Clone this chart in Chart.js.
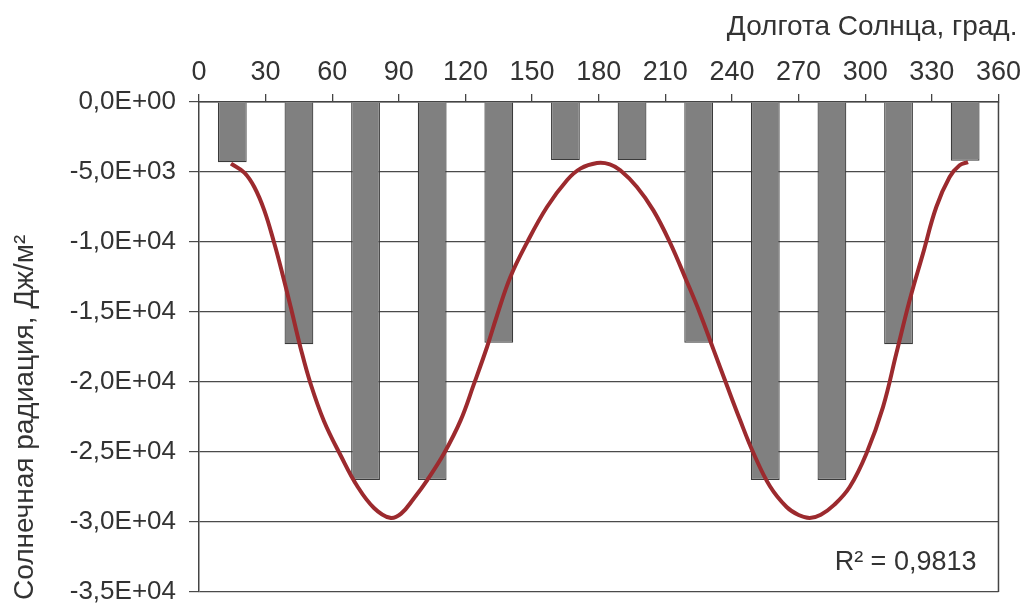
<!DOCTYPE html>
<html>
<head>
  <meta charset="utf-8">
  <script src="https://cdn.jsdelivr.net/npm/chart.js"></script>
  <style>
    body { margin: 0; background: #fff; }
    #wrap { width: 1026px; height: 605px; }
  </style>
</head>
<body>
  <div id="wrap">
    <canvas id="radChart" width="1026" height="605"></canvas>
  </div>
<script>
"use strict";

// Solar longitude (deg) and monthly solar radiation, J/m2
const longitudes = [15, 45, 75, 105, 135, 165, 195, 225, 255, 285, 315, 345];
const radiation = [-4300, -17300, -27000, -27000, -17200, -4150, -4150, -17200, -27000, -27000, -17300, -4200];

// Trend line
const fitLon = [14.4, 20.4, 24.9, 29.4, 33.8, 37.6, 41.3, 45.8, 50.3, 56.3, 63.8, 71.3, 78.8, 86,
  91, 96.8, 102.7, 110.3, 117.8, 123.7, 129.7, 134.2, 140.2, 147.7, 156.7, 165.7, 171.7, 179.2,
  185, 189.7, 197.2, 204.6, 212.1, 219.6, 225.6, 231.6, 237.6, 243.6, 249.6, 257.1, 264.6, 270,
  275, 280, 286, 293, 300.5, 308, 314, 320, 326, 332, 338, 342.5, 346.3];
const fitVal = [-4400, -5040, -6070, -7740, -10040, -12300, -14650, -17600, -20150, -22800, -25250, -27450, -29000, -29700,
  -29400, -28300, -27020, -25110, -22740, -20190, -17500, -15250, -12500, -10040, -7500, -5590, -4760, -4360,
  -4450, -4880, -6070, -7740, -10040, -12800, -15100, -17650, -20200, -22700, -25050, -27450, -28930, -29500,
  -29710, -29480, -28780, -27500, -25120, -21790, -17970, -14160, -10830, -7500, -5360, -4520, -4290];

const xTitle = 'Долгота Солнца, град.';
const yTitle = 'Солнечная радиация, Дж/м²';
const fitNote = 'R² = 0,9813';

const FONT = '"Liberation Sans", Arial, sans-serif';
const INK = '#333333';

// 0,0E+00 style labels
const sci = function(v) {
  if (v === 0) return '0,0E+00';
  const exp = Math.floor(Math.log10(Math.abs(v)));
  const mant = (v / Math.pow(10, exp)).toFixed(1).replace('.', ',');
  const e = Math.abs(exp) < 10 ? '0' + Math.abs(exp) : String(Math.abs(exp));
  return mant + 'E' + (exp < 0 ? '-' : '+') + e;
};

// frame on the right and the free text
const extras = {
  id: 'extras',
  afterDraw(chart) {
    const { ctx, chartArea: a } = chart;
    ctx.save();
    ctx.strokeStyle = '#444';
    ctx.lineWidth = 1.5;
    ctx.beginPath();
    ctx.moveTo(a.right, a.top);
    ctx.lineTo(a.right, a.bottom);
    ctx.stroke();

    ctx.fillStyle = INK;
    ctx.textBaseline = 'alphabetic';
    ctx.textAlign = 'right';
    ctx.font = '28px ' + FONT;
    ctx.fillText(xTitle, a.right + 19, 35);
    ctx.font = '27px ' + FONT;
    ctx.fillText(fitNote, a.right - 22, a.bottom - 22);

    ctx.translate(33, a.bottom + 8);
    ctx.rotate(-Math.PI / 2);
    ctx.textAlign = 'left';
    ctx.font = '28px ' + FONT;
    ctx.fillText(yTitle, 0, 0);
    ctx.restore();
  }
};

const chart = new Chart(document.getElementById('radChart'), {
  data: {
    datasets: [{
      type: 'line',
      order: 0,
      data: fitLon.map((x, i) => ({ x: x, y: fitVal[i] })),
      borderColor: '#9c2a2e',
      borderWidth: 4,
      pointRadius: 0,
      tension: 0.4,
      fill: false
    }, {
      type: 'bar',
      order: 1,
      data: longitudes.map((x, i) => ({ x: x, y: radiation[i] })),
      backgroundColor: '#808080',
      borderColor: '#3a3a3a',
      borderWidth: 1.2,
      barPercentage: 0.54,
      categoryPercentage: 0.8
    }]
  },
  options: {
    responsive: false,
    animation: false,
    layout: { padding: { left: 0, right: 27, top: 0, bottom: 13 } },
    plugins: { legend: { display: false }, tooltip: { enabled: false } },
    scales: {
      x: {
        type: 'linear',
        position: 'top',
        min: 0,
        max: 360,
        offset: false,
        afterFit(scale) { scale.height = 102; },
        ticks: {
          stepSize: 30,
          padding: 5,
          color: INK,
          font: { family: FONT, size: 27 }
        },
        grid: {
          offset: false,
          drawOnChartArea: false,
          tickLength: 8,
          color: '#444',
          lineWidth: 1.3
        },
        border: { color: '#444', width: 1.5 }
      },
      y: {
        min: -35000,
        max: 0,
        afterFit(scale) {
          scale.width = 199;
          scale.paddingTop = 0;
          scale.paddingBottom = 0;
        },
        ticks: {
          stepSize: 5000,
          padding: 13,
          color: INK,
          font: { family: FONT, size: 26 },
          callback: (v) => sci(v)
        },
        grid: {
          tickLength: 10,
          color: '#4a4a4a',
          lineWidth: 1.2
        },
        border: { color: '#444', width: 1.5 }
      }
    }
  },
  plugins: [extras]
});
</script>
</body>
</html>
